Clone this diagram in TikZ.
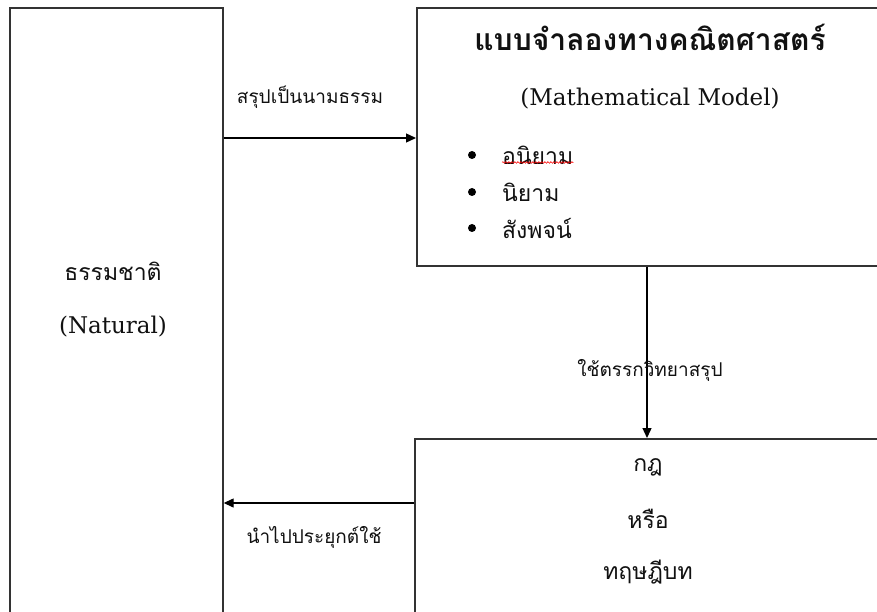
\documentclass[tikz,border=0pt]{standalone}
\usepackage{fontspec}
\setmainfont{Liberation Serif}
\newfontfamily\thai[Script=Thai]{Loma}
\newfontfamily\latinserif{DejaVu Serif}
\usetikzlibrary{arrows.meta,decorations.pathmorphing}
\definecolor{linec}{HTML}{333333}
\definecolor{txt}{HTML}{111111}
\begin{document}
\begin{tikzpicture}[x=1pt,y=-1pt,
  boxc/.style={draw=linec,line width=1.7pt,rectangle,inner sep=0pt},
  arr/.style={draw=black,line width=1.3pt,-{Triangle[length=10pt,width=9pt]}},
  lbl/.style={font=\thai\fontsize{19}{22}\selectfont,text=txt,inner sep=0pt},
  thtx/.style={font=\thai\fontsize{23}{27}\selectfont,text=txt,inner sep=0pt},
  lattx/.style={font=\latinserif\fontsize{23}{27}\selectfont,text=txt,inner sep=0pt},
  bul/.style={circle,fill=black,minimum size=8pt,inner sep=0pt}]
\useasboundingbox (0,0) rectangle (877,612);
\clip (0,0) rectangle (877,612);
\fill[white] (0,0) rectangle (877,612);
% boxes
\node[boxc,minimum width=213pt,minimum height=630pt,anchor=north west] (nat) at (9,7) {};
\node[boxc,minimum width=480pt,minimum height=258pt,anchor=north west] (model) at (416,7) {};
\node[boxc,minimum width=480pt,minimum height=200pt,anchor=north west] (rule) at (414,438) {};
% texts left
\node[thtx] (natth) at (113,271) {ธรรมชาติ};
\node[lattx] (naten) at (113,327) {(Natural)};
% model texts
\node[font=\thai\bfseries\fontsize{30}{34}\selectfont,text=txt,inner sep=0pt] (title) at (650,37) {แบบจำลองทางคณิตศาสตร์};
\node[lattx] (mm) at (650,99) {(Mathematical Model)};
\node[bul] (b1) at (472,155) {};
\node[bul] (b2) at (472,192) {};
\node[bul] (b3) at (472,228) {};
\node[thtx,anchor=west] (i1) at (502,155) {อนิยาม};
\node[thtx,anchor=west] (i2) at (502,192) {นิยาม};
\node[thtx,anchor=west] (i3) at (502,228) {สังพจน์};
\draw[red,line width=0.6pt,decorate,decoration={snake,amplitude=0.8pt,segment length=3pt}] ([yshift=2pt]i1.south west) -- ([yshift=2pt]i1.south east);
% rule texts
\node[thtx] (r1) at (648,467) {กฎ};
\node[thtx] (r2) at (648,519) {หรือ};
\node[thtx] (r3) at (648,572) {ทฤษฎีบท};
% connectors
\coordinate (a1) at (0,138);
\coordinate (a2) at (647,0);
\coordinate (a3) at (0,503);
\draw[arr] (nat.east |- a1) -- (model.west |- a1);
\draw[arr] (model.south -| a2) -- (rule.north -| a2);
\draw[arr] (rule.west |- a3) -- (nat.east |- a3);
% labels
\node[lbl] (l1) at (310,97) {สรุปเป็นนามธรรม};
\node[lbl] (l2) at (650,370) {ใช้ตรรกวิทยาสรุป};
\node[lbl] (l3) at (314,537) {นำไปประยุกต์ใช้};
\end{tikzpicture}
\end{document}
